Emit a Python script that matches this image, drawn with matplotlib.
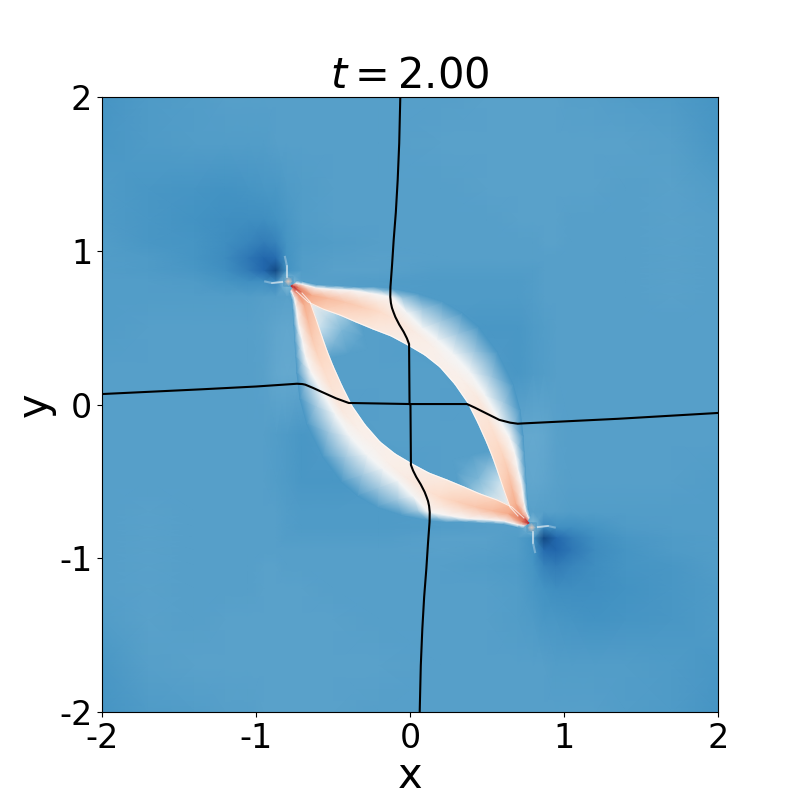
import numpy as np
import matplotlib
matplotlib.use('Agg')
import matplotlib.pyplot as plt

# background field, the lower half is the upper half turned by 180 degrees
gridX = [-2, -1.7, -1.4, -1.2, -1.05, -.95, -.87, -.8, -.7, -.5, -.2, .2, .5, .7, .8, .87, .95, 1.05, 1.2, 1.4, 1.7, 2]
gridY = [2, 1.7, 1.4, 1.2, 1.05, .95, .87, .8, .7, .5, .2]
gridV = [
    [.205, .215, .220, .225, .225, .225, .225, .225, .225, .225, .225, .225, .230, .230, .230, .230, .230, .225, .225, .220, .215, .205],
    [.210, .215, .220, .220, .220, .220, .225, .225, .225, .225, .225, .230, .230, .230, .230, .230, .230, .230, .230, .230, .225, .210],
    [.215, .210, .205, .200, .205, .210, .210, .215, .220, .225, .225, .225, .230, .230, .230, .230, .230, .230, .230, .225, .230, .220],
    [.215, .210, .200, .195, .190, .190, .200, .210, .220, .225, .225, .225, .225, .230, .230, .230, .230, .225, .225, .225, .230, .225],
    [.220, .210, .205, .190, .170, .150, .165, .205, .215, .220, .225, .225, .225, .225, .225, .230, .230, .225, .225, .225, .230, .225],
    [.220, .215, .205, .185, .140, .105, .115, .200, .220, .225, .230, .225, .225, .225, .225, .225, .225, .225, .225, .225, .230, .225],
    [.220, .215, .210, .195, .150, .105, .050, .200, .220, .230, .230, .220, .220, .220, .220, .225, .225, .225, .225, .225, .230, .225],
    [.220, .220, .215, .205, .195, .195, .175, .300, .225, .225, .220, .215, .215, .215, .220, .225, .225, .225, .225, .225, .230, .225],
    [.220, .220, .220, .220, .220, .225, .225, .230, .225, .225, .220, .215, .215, .215, .220, .225, .225, .225, .225, .225, .230, .225],
    [.220, .225, .225, .225, .225, .230, .235, .240, .235, .225, .225, .215, .210, .210, .215, .220, .225, .225, .225, .225, .225, .225],
    [.225, .225, .225, .225, .225, .230, .240, .245, .240, .225, .225, .225, .220, .210, .215, .220, .225, .225, .225, .225, .225, .225],
]

# curves across the upper right arc, from the sharp edge to the outer blue
edgeX = [-.773, -.740, -.662, -.565, -.455, -.351, -.240, -.123, -.013, .097, .195, .292, .377, .442, .500, .539, .571, .610, .649, .701, .753]
edgeY = [.771, .738, .667, .621, .582, .537, .491, .446, .387, .322, .244, .133, .010, -.120, -.250, -.348, -.439, -.556, -.667, -.725, -.764]
coreX = [-.760, -.721, -.636, -.532, -.422, -.305, -.188, -.078, .032, .136, .234, .338, .442, .506, .565, .604, .636, .662, .688, .727, .760]
coreY = [.777, .764, .712, .693, .667, .634, .602, .543, .472, .387, .283, .166, .042, -.094, -.231, -.328, -.426, -.537, -.641, -.712, -.758]
whiteX = [-.740, -.701, -.610, -.494, -.377, -.247, -.117, -.020, .080, .180, .280, .390, .490, .570, .649, .682, .701, .727, .740, .753, .773]
whiteY = [.790, .784, .761, .751, .745, .725, .699, .600, .500, .420, .330, .210, .060, -.080, -.218, -.315, -.413, -.524, -.628, -.693, -.738]
outerX = [-.734, -.695, -.604, -.487, -.370, -.240, -.117, .052, .208, .338, .442, .565, .669, .714, .734, .740, .747, .753, .760, .766, .779]
outerY = [.803, .797, .777, .771, .764, .764, .751, .719, .667, .595, .504, .341, .127, -.036, -.205, -.309, -.407, -.517, -.621, -.686, -.725]
edgeV = [.90, .80, .67, .62, .59, .57, .55, .54, .53, .53, .53, .53, .54, .56, .58, .59, .60, .62, .65, .74, .88]
coreV = [.82, .74, .69, .66, .64, .62, .59, .56, .54, .53, .52, .53, .55, .57, .59, .61, .63, .66, .68, .72, .82]
whiteV = [.50, .50, .50, .50, .50, .50, .50, .49, .49, .49, .49, .49, .49, .49, .50, .50, .50, .50, .50, .50, .50]
outerV = [.22, .22, .22, .22, .22, .22, .22, .215, .215, .21, .21, .21, .21, .21, .21, .215, .215, .215, .22, .22, .22]

# pale wedge between the two bands near the upper left tip
wedgeX = [[-.662, -.50, -.32], [-.60, -.44, -.30], [-.53, -.40, -.28]]
wedgeY = [[.667, .62, .55], [.50, .48, .44], [.30, .33, .36]]
wedgeV = [[.52, .38, .225], [.40, .27, .225], [.225, .225, .225]]

# small pale spot just above the tip
spotX = [[-.82, -.79, -.76], [-.82, -.79, -.76], [-.82, -.79, -.76]]
spotY = [[.83, .83, .83], [.80, .80, .80], [.77, .77, .77]]
spotV = [[.22, .22, .22], [.22, .62, .22], [.22, .22, .22]]

# thin light arcs next to the vortex
arcAX = [-.94, -.896, -.83]
arcAY = [.80, .790, .797]
arcBX = [-.799, -.799, -.812]
arcBY = [.83, .90, .96]

# black curves
vertX = [-.063, -.070, -.080, -.092, -.106, -.117, -.127, -.128, -.124, -.117, -.107, -.095, -.070, -.041, -.020, -.006, -.003,
         .003, .006, .020, .041, .070, .095, .107, .117, .124, .128, .127, .117, .106, .092, .080, .070, .063]
vertY = [2, 1.7, 1.46, 1.25, 1.07, .90, .764, .70, .66, .628, .60, .569, .52, .472, .43, .393, .003,
         -.003, -.393, -.43, -.472, -.52, -.569, -.60, -.628, -.66, -.70, -.764, -.90, -1.07, -1.25, -1.46, -1.7, -2]
horzX = [-2, -1.35, -1, -.734, -.70, -.68, -.63, -.571, -.48, -.398, 0, .37, .42, .50, .58, .65, .70, .734, 1.35, 2]
horzY = [.068, .099, .117, .135, .133, .129, .108, .081, .040, .010, .003, .003, -.020, -.060, -.100, -.118, -.125, -.123, -.093, -.055]

plt.rcParams['axes.unicode_minus'] = False

fig = plt.figure(figsize=(8, 8), dpi=100)
ax = fig.add_axes([102 / 800, 88 / 800, 616 / 800, 615 / 800])


def drawField(x, y, v):
    ax.pcolormesh(x, y, v, shading='gouraud', cmap='RdBu_r', vmin=0, vmax=1)


upperV = np.array(gridV)
fieldV = np.vstack([upperV, upperV[::-1, ::-1]])
fieldY = np.array(gridY + [-k for k in gridY[::-1]])
drawField(np.array(gridX), fieldY, fieldV)

arcX = np.array([edgeX, coreX, whiteX, outerX])
arcY = np.array([edgeY, coreY, whiteY, outerY])
arcV = np.array([edgeV, coreV, whiteV, outerV])

# wedges go under both arcs so their hard sides get covered
for sign in (1, -1):
    drawField(sign * np.array(spotX), sign * np.array(spotY), np.array(spotV))
    drawField(sign * np.array(wedgeX), sign * np.array(wedgeY), np.array(wedgeV))

for sign in (1, -1):
    drawField(sign * arcX, sign * arcY, arcV)
    ax.plot(sign * np.array(edgeX[1:-1]), sign * np.array(edgeY[1:-1]), color='white', lw=.8, alpha=.7)
    for lineX, lineY in ((arcAX, arcAY), (arcBX, arcBY)):
        ax.plot(sign * np.array(lineX), sign * np.array(lineY), color='#d1e5f0', lw=1.5, alpha=.4)
    ax.plot(sign * np.array(arcAX[1:]), sign * np.array(arcAY[1:]), color='#f7f7f7', lw=1.2, alpha=.5)
    ax.plot(sign * np.array(arcBX[:2]), sign * np.array(arcBY[:2]), color='#f7f7f7', lw=1.2, alpha=.5)

ax.plot(vertX, vertY, color='black', lw=1.5)
ax.plot(horzX, horzY, color='black', lw=1.5)

ax.set_xlim(-2, 2)
ax.set_ylim(-2, 2)
ax.set_xticks([-2, -1, 0, 1, 2])
ax.set_yticks([-2, -1, 0, 1, 2])
ax.tick_params(labelsize=24)
ax.set_xlabel('x', fontsize=30, labelpad=0)
ax.set_ylabel('y', fontsize=30, labelpad=2)
ax.set_title('$t = 2.00$', fontsize=30, pad=4)

fig.savefig('out.png', dpi=100)
